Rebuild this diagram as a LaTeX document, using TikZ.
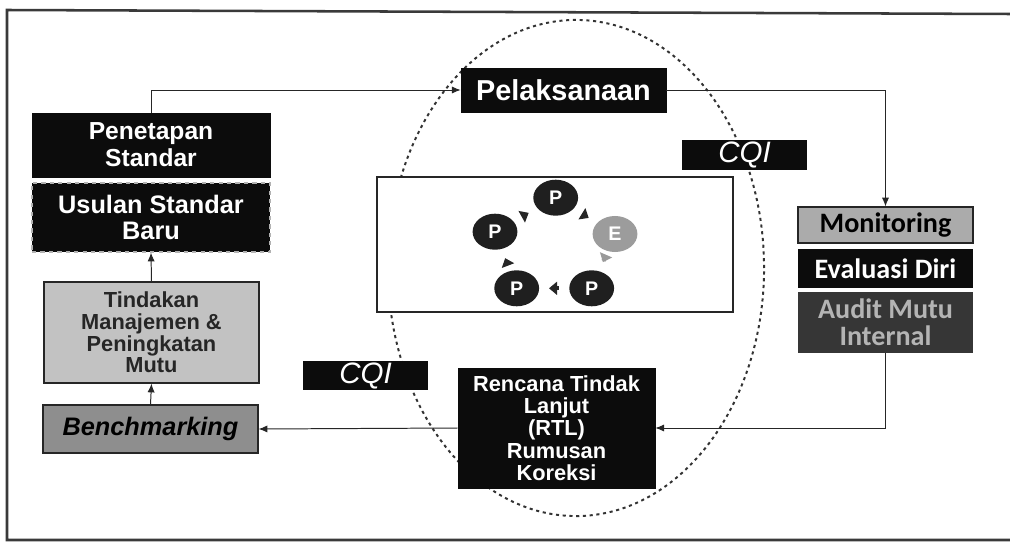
\documentclass[tikz,border=0pt]{standalone}
\usepackage{fontspec}
\setmainfont{Liberation Sans}
\newfontfamily\calfont{Carlito}
\usepackage{tikz}
\usetikzlibrary{
  arrows.meta,
  shapes.geometric,
  positioning,
  calc
}
\definecolor{pmDark}{HTML}{0C0C0C}
\definecolor{pmLight}{HTML}{C2C2C2}
\definecolor{pmMid}{HTML}{8E8E8E}
\definecolor{pmMon}{HTML}{ABABAB}
\definecolor{pmAudit}{HTML}{363636}
\definecolor{pmAuditText}{HTML}{B4B4B4}
\definecolor{pmEval}{HTML}{9C9C9C}
\definecolor{pmFrame}{HTML}{3A3A3A}
\tikzset{
  pmnode/.style={
    rectangle, inner sep=1pt, align=center, font=\bfseries
  },
  darkbox/.style={pmnode, fill=pmDark, draw=pmDark, text=white},
  lightbox/.style={pmnode, fill=pmLight, draw=black!85, text=black!85, line width=0.8pt},
  midbox/.style={pmnode, fill=pmMid, draw=black!85, text=black, line width=0.8pt},
  calbox/.style={pmnode, minimum width=4.375cm},
  cqi/.style={pmnode, fill=pmDark, text=white, font=\fontsize{21}{21}\selectfont\itshape,
    minimum width=3.125cm},
  phase/.style={ellipse, fill=black!88, text=white, minimum width=1.12cm, minimum height=0.9cm,
    inner sep=0pt, font=\fontsize{14}{14}\selectfont\bfseries},
  flow/.style={-{Latex[length=2.2mm, width=1.8mm]}, line width=0.7pt, black!85},
  cyc/.style={-{Triangle[length=2mm, width=3.2mm]}, line width=3pt, black!85,
    shorten >=0.24cm, shorten <=0.26cm},
  zone/.style={draw=black!80, line width=1.4pt, dash pattern=on 2.2pt off 2.6pt}
}

\begin{document}
\begin{tikzpicture}[x=0.025cm, y=-0.025cm]
  \useasboundingbox (0,0) rectangle (1010,551);
  % frame
  \draw[pmFrame, line width=1.8pt] (1010,14) -- (7,10) -- (7,540) -- (1010,540);
  \draw[zone] (576,268) ellipse [x radius=4.7cm, y radius=6.2cm];

  % left column
  \node[darkbox, minimum width=5.95cm, minimum height=1.6cm,
    font=\fontsize{17.5}{19}\selectfont\bfseries] (penet) at (151,145) {Penetapan\\Standar};
  \node[darkbox, draw=white!70!black, dashed, line width=0.8pt, minimum width=5.95cm, minimum height=1.725cm,
    font=\fontsize{18}{19}\selectfont\bfseries] (usulan) at (151,217.5) {Usulan Standar\\Baru};
  \node[lightbox, minimum width=5.375cm, minimum height=2.525cm,
    font=\fontsize{15.5}{15.4}\selectfont\bfseries] (tindak) at (151.5,332.5)
    {Tindakan\\Manajemen \&\\Peningkatan\\Mutu};
  \node[midbox, minimum width=5.375cm, minimum height=1.2cm,
    font=\fontsize{18}{18}\selectfont\bfseries\itshape] (bench) at (150.5,429) {Benchmarking};

  % top and right
  \node[darkbox, minimum width=5.125cm, minimum height=1.1cm,
    font=\fontsize{20.5}{20.5}\selectfont\bfseries] (pelak) at (563.5,90) {Pelaksanaan};
  \node[calbox, fill=pmMon, draw=black!85, line width=0.8pt, minimum height=0.9cm, text=black,
    font=\fontsize{20}{20}\calfont\bfseries] (monit) at (885.5,225) {Monitoring};
  \node[calbox, fill=pmDark, minimum height=0.975cm, text=white,
    font=\fontsize{20}{20}\calfont\bfseries] (eval) at (885.5,268.5) {Evaluasi Diri};
  \node[calbox, fill=pmAudit, minimum height=1.525cm, text=pmAuditText,
    font=\fontsize{20}{19}\calfont\bfseries] (audit) at (885.5,322.5) {Audit Mutu\\Internal};
  \node[darkbox, minimum width=4.925cm, minimum height=3cm,
    font=\fontsize{15.5}{15.8}\selectfont\bfseries] (rtl) at (556.5,428)
    {Rencana Tindak\\Lanjut\\(RTL)\\Rumusan\\Koreksi};

  % CQI labels
  \node[cqi, minimum height=0.75cm] (cqiA) at (744.5,155) {CQI};
  \node[cqi, minimum height=0.6cm] (cqiB) at (365.5,375.5) {CQI};

  % PPEPP cycle
  \node[draw=black!85, line width=0.9pt, fill=white, minimum width=8.9cm, minimum height=3.375cm,
    inner sep=0pt] (cycbox) at (555,244.5) {};
  \node[phase] (pT) at (555.7,197.7) {P};
  \node[phase, fill=pmEval] (pE) at (615,234) {E};
  \node[phase] (pBR) at (591.7,288.3) {P};
  \node[phase] (pBL) at (516.7,288.3) {P};
  \node[phase] (pL) at (495,231.7) {P};
  \draw[cyc] (pT) -- (pE);
  \draw[cyc, black!40] (pE) -- (pBR);
  \draw[cyc] (pBR) -- (pBL);
  \draw[cyc] (pBL) -- (pL);
  \draw[cyc] (pL) -- (pT);

  % connectors
  \draw[flow] (penet.north) |- (pelak.west);
  \draw[flow] (pelak.east) -| (monit.north);
  \draw[flow] (audit.south) |- (rtl.east);
  \draw[flow] (rtl.west) -- (bench.east);
  \draw[flow] (bench.north) -- (tindak.south);
  \draw[flow] (tindak.north) -- (usulan.south);
\end{tikzpicture}
\end{document}
